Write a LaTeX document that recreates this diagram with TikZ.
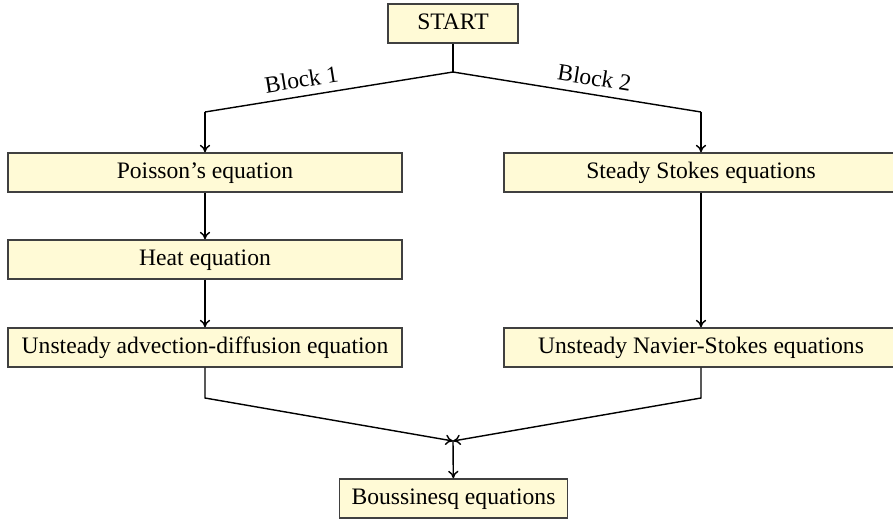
\documentclass[tikz,border=0pt]{standalone}
\usepackage{fontspec}
\setmainfont{Liberation Serif}
\usetikzlibrary{arrows.meta}
\begin{document}
\begin{tikzpicture}[x=0.4237pt,y=-0.4237pt,
  box/.style={draw=black!75, fill=boxfill, line width=0.6pt, minimum height=16.5pt,
              inner sep=2pt, text height=7pt, text depth=2pt,
              font=\fontsize{10}{12}\selectfont},
  wide/.style={box, minimum width=167pt},
  link/.style={line width=0.6pt},
  flow/.style={link, -{To[length=3.2pt,width=4.4pt]}},
  tag/.style={sloped, above, font=\fontsize{10}{12}\selectfont}]
\definecolor{boxfill}{RGB}{255,250,214}
\useasboundingbox (0,0) rectangle (893,526);

% boxes
\node[box, minimum width=55pt] (start) at (453,23.5) {START};
\node[wide] (poisson) at (205,172.5) {Poisson’s equation};
\node[wide] (heat)    at (205,259.5) {Heat equation};
\node[wide] (advdiff) at (205,347.5) {Unsteady advection-diffusion equation};
\node[wide] (stokes)  at (701,172.5) {Steady Stokes equations};
\node[wide] (navier)  at (701,347.5) {Unsteady Navier-Stokes equations};
\node[box, minimum width=96.6pt] (bouss) at (453.5,498.5) {Boussinesq equations};

% branch points
\coordinate (jtop)  at (453,72);
\coordinate (lturn) at (205,112);
\coordinate (rturn) at (701,112);
\coordinate (lbot)  at (205,398);
\coordinate (rbot)  at (701,398);
\coordinate (jbot)  at (453,441);

% split into the two blocks
\draw[link] (start) -- (jtop);
\draw[link] (jtop) -- node[tag, pos=0.6] {Block 1} (lturn);
\draw[link] (jtop) -- node[tag, pos=0.56] {Block 2} (rturn);
\draw[flow] (lturn) -- (poisson);
\draw[flow] (rturn) -- (stokes);

% block 1
\draw[flow] (poisson) -- (heat);
\draw[flow] (heat) -- (advdiff);

% block 2
\draw[flow] (stokes) -- (navier);

% merge
\draw[flow] (advdiff.south) -- (lbot) -- (jbot);
\draw[flow] (navier.south) -- (rbot) -- (jbot);
\draw[flow] (jbot) -- (bouss);
\end{tikzpicture}
\end{document}
